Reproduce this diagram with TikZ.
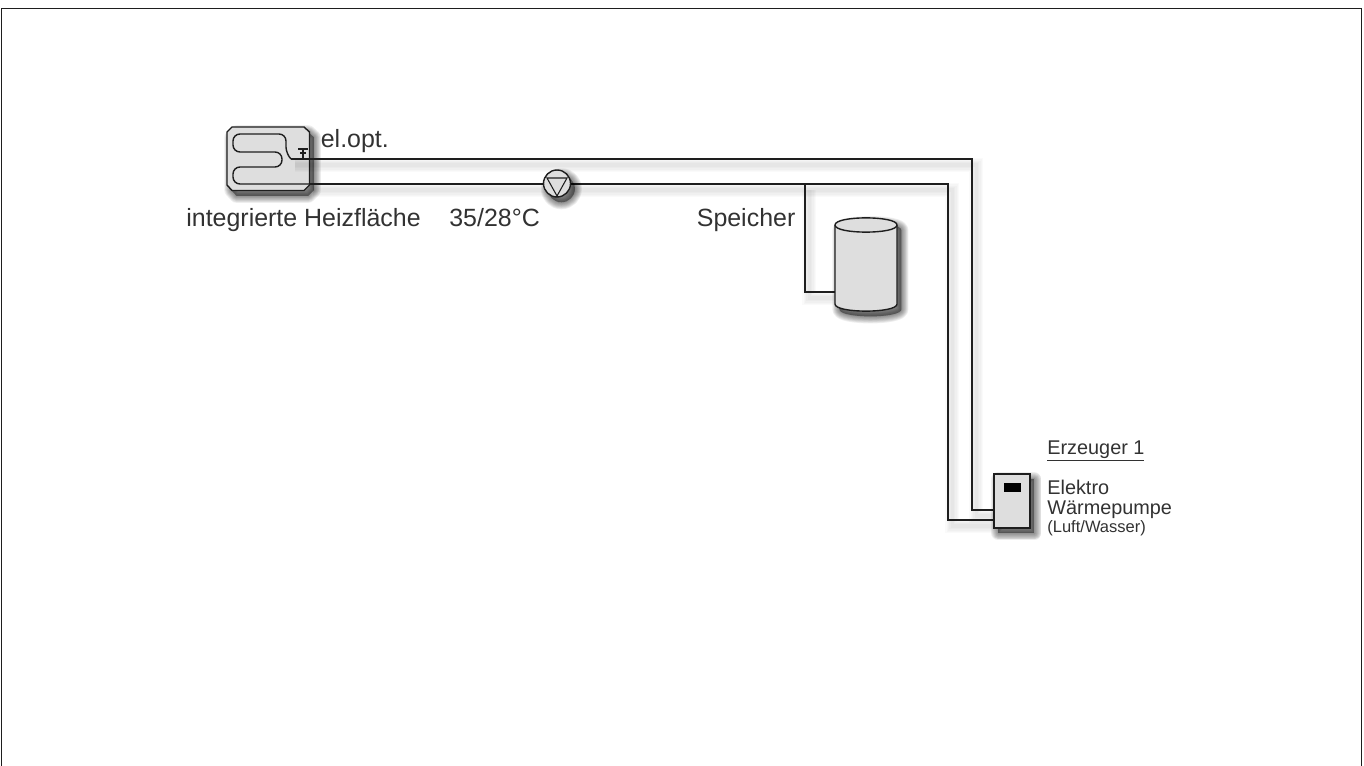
\documentclass[tikz,border=0pt]{standalone}
\usepackage{fontspec}
\setmainfont{Liberation Sans}
\usetikzlibrary{
	positioning, calc
}
\definecolor{anlagedark}  {RGB}{ 30,  30,  30}
\definecolor{anlagegray}  {RGB}{222, 222, 222}
\definecolor{anlagetext}  {RGB}{ 50,  50,  50}
\tikzset{
	softline/.style={preaction={draw=black,opacity=0.018,line width=#1,transform canvas={shift={(2.5pt,-3.5pt)}}}},
	softbody/.style={preaction={fill=black,draw=black,opacity=0.065,line width=#1,line join=round,transform canvas={shift={(2.5pt,-3pt)}}}},
	pipe/.style={draw=anlagedark,line width=0.8pt,softline=8pt,softline=6.5pt,softline=5pt,softline=3.5pt,softline=2pt},
	apparat/.style={draw=anlagedark,line width=0.8pt,fill=anlagegray,
		softbody=8pt,softbody=7pt,softbody=6pt,softbody=5pt,softbody=4pt,softbody=3pt,softbody=2pt,softbody=1pt},
	textlabel/.style={anchor=base west,inner sep=0pt,text=anlagetext,font=\fontsize{14.2}{16}\selectfont},
	smalllabel/.style={textlabel,font=\fontsize{11.3}{13}\selectfont},
	tinylabel/.style={textlabel,font=\fontsize{9.4}{11}\selectfont}
}
\begin{document}
\begin{tikzpicture}[x=0.02cm,y=-0.02cm]
	\useasboundingbox (0,0) rectangle (1364,766);
	\draw[anlagedark,line width=0.5pt] (1,766)--(1,8)--(1361,8)--(1361,766);

	\draw[apparat] (232,127) -- (304,127) -- (309.5,132) -- (309.5,185) -- (304,190.5) -- (232,190.5) -- (227,185) -- (227,132) -- cycle;
	\coordinate (vl) at (291,159);
	\coordinate (rl) at (309,184);
	\coordinate (vlknick) at (972,159);
	\coordinate (rlknick) at (948,184);
	\coordinate (abzweig) at (805,184);
	\coordinate (spknick) at (805,292);
	\coordinate (spanschluss) at (835,292);
	\coordinate (wpvl) at (994,510);
	\coordinate (wprl) at (994,520);

	\draw[pipe] (vl) -- (vlknick) |- (wpvl);
	\draw[pipe] (rl) -- (rlknick) |- (wprl);
	\draw[pipe] (abzweig) -- (spknick) -- (spanschluss);

	\draw[anlagedark,line width=0.8pt,rounded corners=7*0.02cm]
		(vl) -- (286,154) -- (286,134) -- (233,134) -- (233,152) -- (282,152)
		-- (282,167) -- (233,167) -- (233,184) -- (rl);
	\draw[anlagedark,line width=0.8pt] (298,149) -- (308,149) (300,153) -- (306,153) (303,149) -- (303,159);

	\node[apparat,circle,minimum size=27*0.02cm,inner sep=0pt] (pump) at (557,183.5) {};
	\draw[anlagedark,line width=0.6pt] (547,178) -- (567,178) -- (557,196) -- cycle;
	\draw[anlagedark,line width=0.8pt] (553,196.5) -- (561,196.5);

	\draw[apparat] (835,225) .. controls (835,215.5) and (897,215.5) .. (897,225) -- (897,304)
		.. controls (897,313.5) and (835,313.5) .. (835,304) -- cycle;
	\draw[anlagedark,line width=0.8pt] (835,225) .. controls (835,234.5) and (897,234.5) .. (897,225);

	\node[apparat,rectangle,minimum width=36*0.02cm,minimum height=54*0.02cm,inner sep=0pt] (wp) at (1012,501) {};
	\node[fill=black,minimum width=17*0.02cm,minimum height=9*0.02cm,inner sep=0pt] (anzeige) at (1012.5,487.5) {};

	\node[textlabel] (elopt) at (320.5,148) {el.opt.};
	\node[textlabel] (heiztext) at (186,227) {integrierte Heizfläche};
	\node[textlabel] (temp) at (449,227) {35/28°C};
	\node[textlabel] (sptext) at (696.5,227) {Speicher};
	\node[smalllabel] (erz) at (1047,454) {\underline{Erzeuger 1}};
	\node[smalllabel] (elektro) at (1047,494) {Elektro};
	\node[smalllabel] (wpumpe) at (1047,514) {Wärmepumpe};
	\node[tinylabel] (luft) at (1047,532.5) {(Luft/Wasser)};
\end{tikzpicture}
\end{document}
